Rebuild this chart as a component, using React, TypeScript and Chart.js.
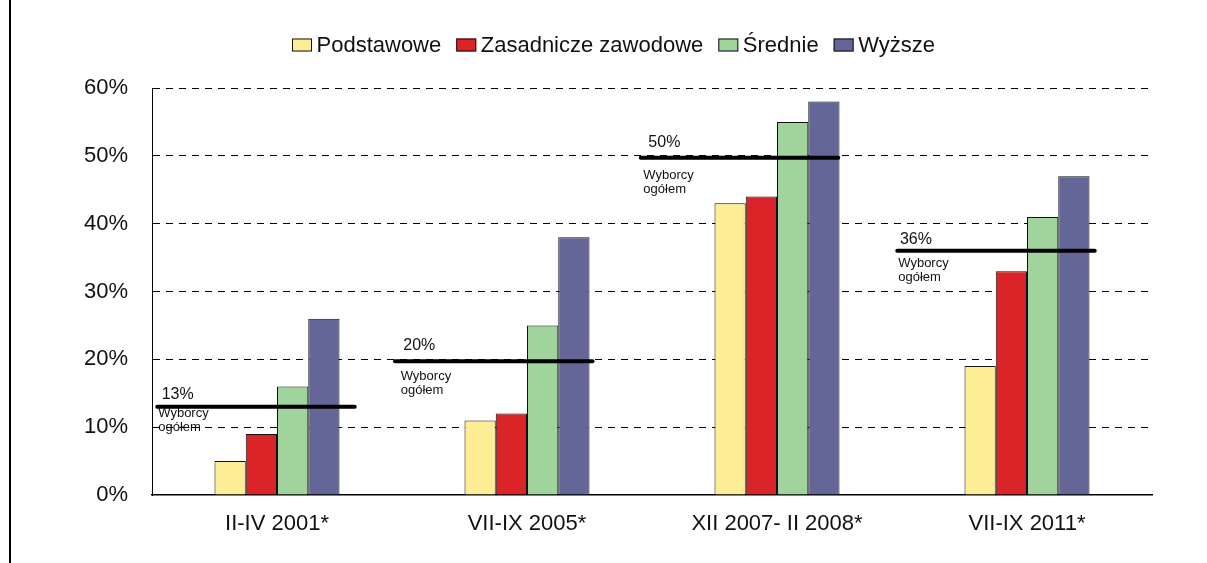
import React, { useEffect, useRef } from "react";
import { Chart, registerables } from "chart.js";

Chart.register(...registerables);

// ---- Data ----
const categories = ["II-IV 2001*", "VII-IX 2005*", "XII 2007- II 2008*", "VII-IX 2011*"];
const seriesNames = ["Podstawowe", "Zasadnicze zawodowe", "Średnie", "Wyższe"];
const podstawowe = [5, 11, 43, 19];
const zasadniczeZawodowe = [9, 12, 44, 33];
const srednie = [16, 25, 55, 41];
const wyzsze = [26, 38, 58, 47];
const wyborcyOgolem = [13, 19.7, 49.7, 36];
const overallCaption = ["Wyborcy", "ogółem"];
const yTickValues = [0, 10, 20, 30, 40, 50, 60];

// ---- Styles ----
const FONT = "'Liberation Sans', Arial, Helvetica, sans-serif";
const seriesColors = ["#FDEE95", "#DA2427", "#A1D39D", "#646698"];
const BAR_BORDER = "#111111";

// annotation layout (per category), relative to category slot
const lineStartFrac = [0.021, -0.028, -0.045, -0.019];
const lineLenFrac = 0.79;
const pctDx = [4.4, 8.3, 7.6, 2.7];
const pctDy = [7.5, 11.7, 11.3, 7.2];
const capDx = [1, 5.7, 2.6, 1];
const capDy = [9.7, 18.3, 21, 16];
const capLineGap = 14.5;

const overallPlugin = {
  id: "overallLines",
  afterDatasetsDraw(chart: any) {
    const { ctx } = chart;
    const x = chart.scales.x;
    const y = chart.scales.y;
    const cw = (chart.chartArea.right - chart.chartArea.left) / categories.length;
    ctx.save();
    wyborcyOgolem.forEach((v, i) => {
      const left = x.getPixelForValue(i) - cw / 2;
      const x1 = left + lineStartFrac[i] * cw;
      const x2 = x1 + lineLenFrac * cw;
      const py = y.getPixelForValue(v);
      ctx.beginPath();
      ctx.lineWidth = 4;
      ctx.lineCap = "round";
      ctx.strokeStyle = "#000";
      ctx.moveTo(x1, py);
      ctx.lineTo(x2, py);
      ctx.stroke();
      ctx.fillStyle = "#111";
      ctx.textAlign = "left";
      ctx.textBaseline = "alphabetic";
      ctx.font = `16px ${FONT}`;
      ctx.fillText(`${Math.round(v)}%`, x1 + pctDx[i], py - pctDy[i]);
      ctx.font = `13px ${FONT}`;
      overallCaption.forEach((t, k) => {
        ctx.fillText(t, x1 + capDx[i], py + capDy[i] + k * capLineGap);
      });
    });
    ctx.restore();
  },
};

const legendPlugin = {
  id: "customLegend",
  afterDraw(chart: any) {
    const { ctx } = chart;
    ctx.save();
    ctx.font = `22px ${FONT}`;
    ctx.textBaseline = "alphabetic";
    ctx.textAlign = "left";
    let cx = 292;
    const boxTop = 38.5;
    const boxW = 20;
    const boxH = 13;
    chart.data.datasets.forEach((ds: any) => {
      ctx.fillStyle = ds.backgroundColor;
      ctx.fillRect(cx, boxTop, boxW, boxH);
      ctx.lineWidth = 1;
      ctx.strokeStyle = BAR_BORDER;
      ctx.strokeRect(cx + 0.5, boxTop + 0.5, boxW - 1, boxH - 1);
      cx += boxW + 4.5;
      ctx.fillStyle = "#111";
      ctx.fillText(ds.label, cx, 52);
      cx += ctx.measureText(ds.label).width + 15;
    });
    ctx.restore();
  },
};

export default function App() {
  const canvasRef = useRef<HTMLCanvasElement | null>(null);

  useEffect(() => {
    if (!canvasRef.current) return;
    const seriesValues = [podstawowe, zasadniczeZawodowe, srednie, wyzsze];
    const chart = new Chart(canvasRef.current, {
      type: "bar",
      data: {
        labels: categories,
        datasets: seriesNames.map((name, i) => ({
          label: name,
          data: seriesValues[i],
          backgroundColor: seriesColors[i],
          borderColor: BAR_BORDER,
          borderWidth: 1,
          categoryPercentage: 0.5,
          barPercentage: 1.0,
        })),
      },
      options: {
        responsive: false,
        animation: false,
        devicePixelRatio: 1,
        layout: { padding: { left: 0, right: 55, top: 88, bottom: 0 } },
        plugins: {
          legend: { display: false },
          tooltip: { enabled: false },
          title: { display: false },
        },
        scales: {
          x: {
            grid: { display: false, drawTicks: false },
            border: { display: true, color: "#000", width: 1.5 },
            ticks: {
              color: "#111",
              font: { family: FONT, size: 22 },
              padding: 16,
              maxRotation: 0,
              autoSkip: false,
            },
            afterFit(scale: any) {
              scale.height = 68;
            },
          },
          y: {
            min: 0,
            max: 60,
            afterBuildTicks(scale: any) {
              scale.ticks = yTickValues.map((v) => ({ value: v }));
            },
            grid: {
              drawTicks: false,
              color: (c: any) => (c.tick && c.tick.value === 0 ? "rgba(0,0,0,0)" : "#000"),
              lineWidth: 1,
            },
            border: { display: true, color: "#000", width: 1, dash: [7, 6] },
            ticks: {
              color: "#111",
              font: { family: FONT, size: 22 },
              padding: 24,
              callback: (v: any) => `${v}%`,
            },
            afterFit(scale: any) {
              scale.width = 152;
            },
          },
        },
      },
      plugins: [overallPlugin, legendPlugin],
    });
    return () => chart.destroy();
  }, []);

  return (
    <div style={{ position: "absolute", left: 0, top: 0, width: 1207, height: 563, background: "#fff" }}>
      <canvas
        ref={canvasRef}
        width={1207}
        height={563}
        style={{ position: "absolute", left: 0, top: 0, width: 1207, height: 563 }}
      />
      <div style={{ position: "absolute", left: 9, top: 0, width: 2, height: 563, background: "#000" }} />
    </div>
  );
}
